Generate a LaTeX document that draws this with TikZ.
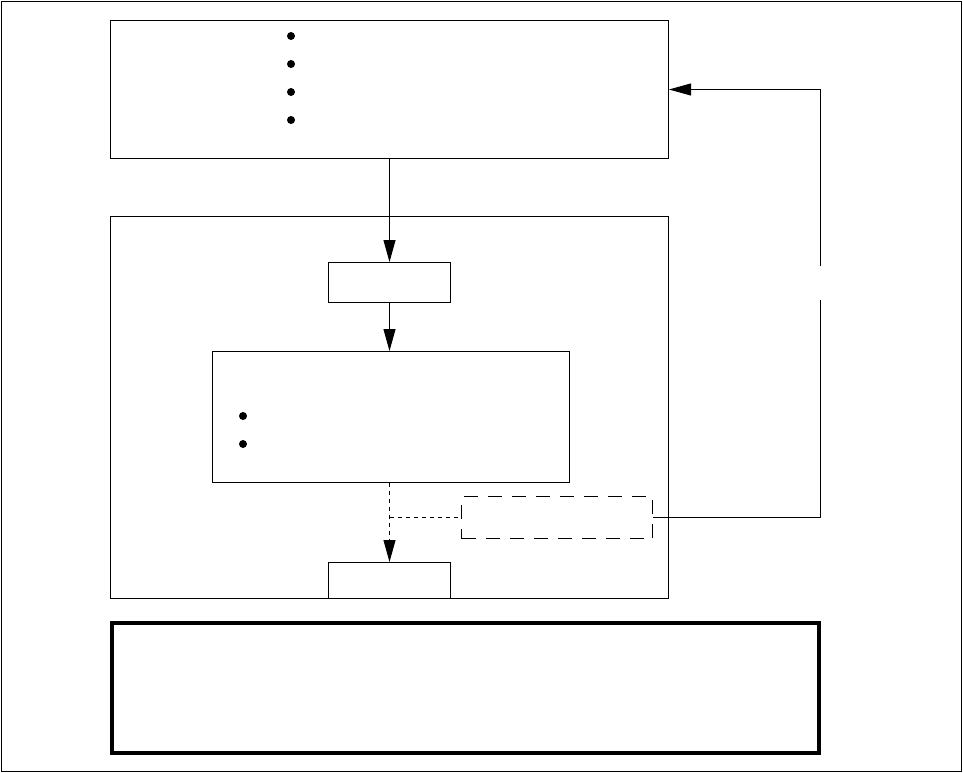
\documentclass[tikz,border=0pt]{standalone}
\usetikzlibrary{arrows.meta}
\begin{document}
\begin{tikzpicture}[x=1pt,y=-1pt,line width=1pt,
  box/.style={draw,line width=1pt,inner sep=0pt,anchor=north west},
  tip/.style={-{Triangle[length=22pt,width=12pt]}},
  dotline/.style={dash pattern=on 4pt off 4pt},
  bullet/.style={fill=black}]
\useasboundingbox (0,0) rectangle (963,773);
\node[box,line width=1.3pt,minimum width=960pt,minimum height=770pt] (frame) at (1,1) {};
\node[box,minimum width=558pt,minimum height=138pt] (top) at (110,20) {};
\node[box,minimum width=558pt,minimum height=382pt] (mid) at (110,216) {};
\node[box,minimum width=122pt,minimum height=40pt] (s1) at (328,262) {};
\node[box,minimum width=357pt,minimum height=131pt] (b2) at (212,351) {};
\node[box,minimum width=122pt,minimum height=36pt] (s3) at (328,562) {};
\node[box,dash pattern=on 14pt off 10pt,minimum width=191pt,minimum height=42pt] (db) at (461,496) {};
\node[box,line width=4pt,minimum width=707pt,minimum height=130pt] (bot) at (110,621) {};
% bullets
\foreach \yy in {36,64,92,120} \fill[bullet] (291,\yy) circle (4);
\foreach \yy in {416,444} \fill[bullet] (243,\yy) circle (4);
% arrows
\draw[tip] (top.south -| s1.north) -- (s1.north);
\draw[tip] (s1.south) -- (s1.south |- b2.north);
\draw[tip,dotline] (b2.south -| s3.north) -- (s3.north);
\coordinate (j) at (s3.north |- db.west);
\draw[dotline] (j) -- (db.west);
\draw[tip] (db.east) -- ++(167,0) coordinate (c1) |- (top.east);
\node[fill=white,inner sep=0pt,minimum width=6pt,minimum height=34pt] (gap) at (c1 |- 0,283) {};
\end{tikzpicture}
\end{document}
